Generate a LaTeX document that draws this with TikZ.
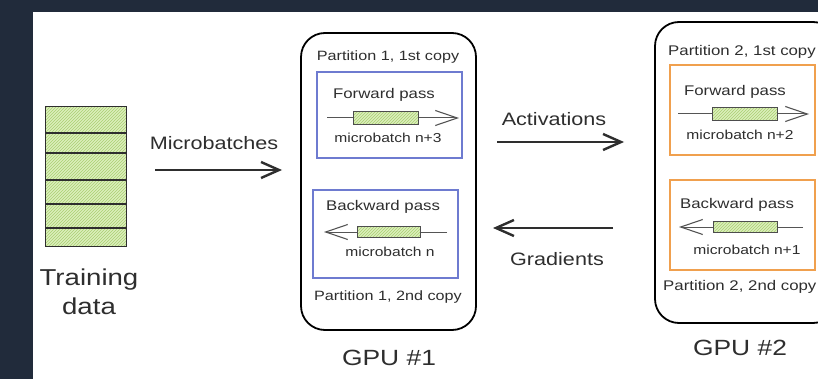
\documentclass[tikz,border=0pt]{standalone}
\usepackage{fontspec}
\newfontfamily\hand[FakeStretch=1.2]{Liberation Sans}
\usetikzlibrary{arrows.meta,patterns}
\definecolor{navy}{HTML}{212B3B}
\definecolor{ink}{HTML}{2E2E2E}
\definecolor{bluebox}{HTML}{6E7BD0}
\definecolor{orangebox}{HTML}{F0A04E}
\definecolor{greenfill}{HTML}{DCEFBC}
\definecolor{greenhatch}{HTML}{A9CF72}
\definecolor{thin}{HTML}{555555}
\tikzset{
  gpubox/.style={draw=black, line width=1.8pt, rounded corners=24pt, inner sep=0pt},
  passbox/.style={draw=#1, line width=1.2pt, fill=white, inner sep=0pt},
  greenbar/.style={draw=ink!85, line width=0.8pt, inner sep=0pt,
    preaction={fill=greenfill}, pattern=north east lines, pattern color=greenhatch},
  bigarrow/.style={draw=ink, line width=2.6pt, -{Straight Barb[length=18pt,width=16pt,line width=2.4pt]}},
  thinarrow/.style={draw=thin, line width=1pt, -{Straight Barb[length=22pt,width=15pt,line width=1.1pt]}},
  lbl/.style={text=ink, font=\hand\fontsize{#1}{#1}\selectfont, inner sep=0pt}
}
\begin{document}
\begin{tikzpicture}[x=1pt,y=-1pt]
\clip (0,0) rectangle (818,379);
\fill[navy] (0,0) rectangle (818,379);
\fill[white] (33,12) rectangle (818,379);

% training data
\node[greenbar, draw=ink, line width=1pt, minimum width=81pt, minimum height=139pt] (data) at (85.5,176.5) {};
\foreach \yy in {133,153,180,204,228}
  \draw[ink, line width=1.3pt] (45,\yy) -- (126,\yy);
\node[lbl=23, align=center] (tdata) at (89,292) {Training\\[6pt]data};

% microbatches
\coordinate (mbA) at (155,170);
\coordinate (mbB) at (282,170);
\draw[bigarrow] (mbA) -- (mbB);
\node[lbl=18] (mbl) at (214,143) {Microbatches};

% GPU 1
\node[gpubox, minimum width=175pt, minimum height=297pt] (gpu1) at (388.5,181.5) {};
\node[lbl=13.5] (p11) at (388,57) {Partition 1, 1st copy};
\node[lbl=13.5] (p12) at (388,297) {Partition 1, 2nd copy};
\node[lbl=22] (g1) at (389,358) {GPU \#1};

\node[passbox=bluebox, minimum width=145pt, minimum height=86pt] (fwd1) at (389.5,115) {};
\node[lbl=14] (fwd1t) at (384,95) {Forward pass};
\coordinate (f1a) at (327,118);
\coordinate (f1b) at (459,118);
\draw[thinarrow] (f1a) -- (f1b);
\node[greenbar, minimum width=65pt, minimum height=13pt] (bar1) at (385.5,118) {};
\node[lbl=13] (mb1) at (388,138) {microbatch n+3};

\node[passbox=bluebox, minimum width=145pt, minimum height=88pt] (bwd1) at (385.5,234) {};
\node[lbl=14] (bwd1t) at (383,207) {Backward pass};
\coordinate (b1a) at (447,232);
\coordinate (b1b) at (324,232);
\draw[thinarrow] (b1a) -- (b1b);
\node[greenbar, minimum width=63pt, minimum height=11pt] (bar2) at (388.5,232) {};
\node[lbl=13] (mb2) at (390,252) {microbatch n};

% activations / gradients
\coordinate (acA) at (497,142);
\coordinate (acB) at (624,142);
\draw[bigarrow] (acA) -- (acB);
\node[lbl=18] (acl) at (554,119) {Activations};
\coordinate (grA) at (613,228);
\coordinate (grB) at (493,228);
\draw[bigarrow] (grA) -- (grB);
\node[lbl=18] (grl) at (557,259) {Gradients};

% GPU 2
\node[gpubox, minimum width=182pt, minimum height=301pt] (gpu2) at (746,172.5) {};
\node[lbl=14, anchor=west] (p21) at (668,52) {Partition 2, 1st copy};
\node[lbl=14, anchor=west] (p22) at (663,287) {Partition 2, 2nd copy};
\node[lbl=22] (g2) at (740,348) {GPU \#2};

\node[passbox=orangebox, minimum width=145pt, minimum height=90pt] (fwd2) at (742.5,110) {};
\node[lbl=14] (fwd2t) at (735,92) {Forward pass};
\coordinate (f2a) at (678,114);
\coordinate (f2b) at (809,114);
\draw[thinarrow] (f2a) -- (f2b);
\node[greenbar, minimum width=65pt, minimum height=13pt] (bar3) at (744.5,114) {};
\node[lbl=13] (mb3) at (740,135) {microbatch n+2};

\node[passbox=orangebox, minimum width=145pt, minimum height=90pt] (bwd2) at (742.5,225) {};
\node[lbl=14] (bwd2t) at (737,205) {Backward pass};
\coordinate (b2a) at (803,227);
\coordinate (b2b) at (679,227);
\draw[thinarrow] (b2a) -- (b2b);
\node[greenbar, minimum width=64pt, minimum height=11pt] (bar4) at (745,227) {};
\node[lbl=13] (mb4) at (747,250) {microbatch n+1};
\end{tikzpicture}
\end{document}
